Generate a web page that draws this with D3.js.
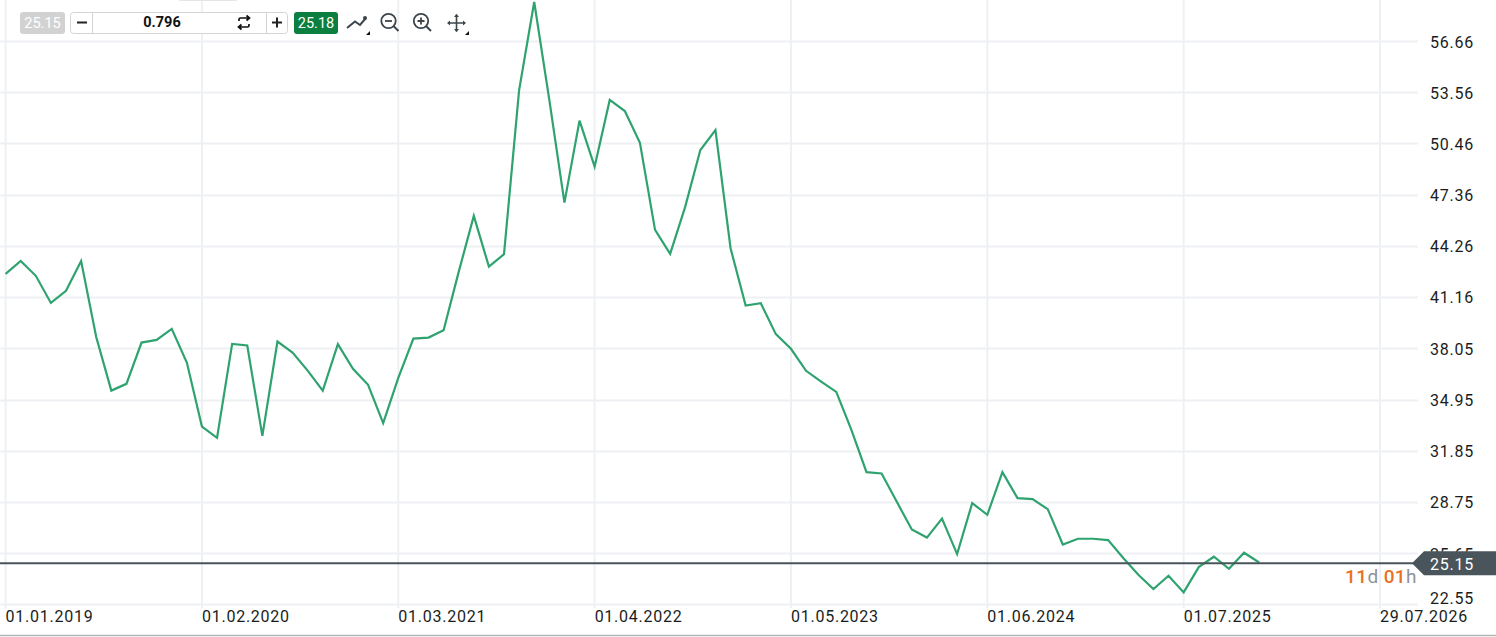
<!DOCTYPE html>
<html><head><meta charset="utf-8">
<script src="https://cdn.jsdelivr.net/npm/d3@7"></script>
<style>
html,body{margin:0;padding:0;background:#fff;overflow:hidden}
text{font-family:Roboto,sans-serif}
</style></head><body><svg id="c" width="1496" height="637"></svg>
<script>
const prices=[42.56,43.34,42.44,40.80,41.53,43.34,38.74,35.49,35.90,38.40,38.56,39.23,37.19,33.31,32.63,38.32,38.22,32.75,38.46,37.79,36.70,35.49,38.30,36.81,35.84,33.52,36.26,38.64,38.70,39.15,42.68,46.07,43.00,43.75,53.69,59.02,53.09,46.87,51.84,49.05,53.09,52.42,50.50,45.22,43.77,46.63,50.06,51.27,44.11,40.64,40.78,38.91,38.02,36.69,36.04,35.41,33.11,30.55,30.47,28.77,27.08,26.59,27.74,25.59,28.68,27.97,30.55,28.98,28.92,28.31,26.17,26.52,26.52,26.44,25.35,24.34,23.47,24.28,23.27,24.80,25.43,24.70,25.67,25.08];
const yTicks=[56.66,53.56,50.46,47.36,44.26,41.16,38.05,34.95,31.85,28.75,25.65,22.55];
const xTickLabels=["01.01.2019","01.02.2020","01.03.2021","01.04.2022","01.05.2023","01.06.2024","01.07.2025","29.07.2026"];
const xTickIndex=[0,13,26,39,52,65,78,91];
const lastLabel="25.15", lineLevel=25.04;
const bidLabel="25.18", sizeLabel="0.796";

const svg=d3.select("#c");
const x=d3.scaleLinear().domain([0,91]).range([5.6,1380]);
const y=d3.scaleLinear().domain([22.55,56.66]).range([604.3,41]);
const plotR=1418, grid="#eef0f4";

const g=svg.append("g");
g.selectAll(".h").data(yTicks).join("line").attr("x1",0).attr("x2",plotR)
 .attr("y1",d=>Math.round(y(d))+.5).attr("y2",d=>Math.round(y(d))+.5).attr("stroke",grid).attr("stroke-width",2);
g.selectAll(".v").data(xTickIndex).join("line").attr("y1",0).attr("y2",608)
 .attr("x1",d=>x(d)).attr("x2",d=>x(d)).attr("stroke",grid).attr("stroke-width",2);

svg.append("path").datum(prices)
 .attr("d",d3.line().x((d,i)=>x(i)).y(d=>y(d)))
 .attr("fill","none").attr("stroke","#2fa36f").attr("stroke-width",2.2).attr("stroke-linejoin","miter");

svg.append("line").attr("x1",0).attr("x2",1414).attr("y1",y(lineLevel)).attr("y2",y(lineLevel))
 .attr("stroke","#4a545b").attr("stroke-width",2);

svg.append("g").selectAll("text").data(yTicks).join("text")
 .attr("x",1430).attr("y",d=>d===22.55?604:y(d)+6.5).text(d=>d.toFixed(2))
 .attr("font-size",16).attr("fill","#1a1d20").attr("letter-spacing",".75px");
svg.append("g").selectAll("text").data(xTickLabels).join("text")
 .attr("x",(d,i)=>x(xTickIndex[i])).attr("y",622).text(d=>d)
 .attr("font-size",16).attr("fill","#1a1d20").attr("letter-spacing",".75px");

// price tag
const ly=y(lineLevel);
svg.append("path").attr("d",`M1412,${ly}L1424,${ly-12}H1496V${ly+12}H1424Z`).attr("fill","#4a545b");
svg.append("text").attr("x",1430).attr("y",ly+7).text(lastLabel).attr("font-size",16).attr("fill","#fff").attr("letter-spacing",".75px");

// countdown
const cd=svg.append("text").attr("x",1345).attr("y",583).attr("font-size",19);
[["11","#e8711f",500],["d","#8d9499",400],[" 01","#e8711f",500],["h","#8d9499",400]].forEach(p=>cd.append("tspan").attr("fill",p[1]).attr("font-weight",p[2]).attr("letter-spacing",".4px").attr("xml:space","preserve").text(p[0]));

svg.append("line").attr("x1",0).attr("x2",1496).attr("y1",635.5).attr("y2",635.5).attr("stroke","#b4b4b4").attr("stroke-width",1.5);

// toolbar
const t=svg.append("g");
t.append("rect").attr("x",178).attr("y",-6).attr("width",60).attr("height",7).attr("rx",3).attr("fill","#e4e4e4");
t.append("rect").attr("x",20).attr("y",12).attr("width",45).attr("height",22).attr("rx",3).attr("fill","#d2d2d2");
t.append("text").attr("x",42.5).attr("y",28).attr("text-anchor","middle").attr("font-size",14.5).attr("fill","#fff").text(lastLabel);
t.append("rect").attr("x",70.5).attr("y",12.5).attr("width",217).attr("height",21).attr("rx",3).attr("fill","#fff").attr("stroke","#d4d4d4");
[92.5,266.5].forEach(v=>t.append("line").attr("x1",v).attr("x2",v).attr("y1",13).attr("y2",33).attr("stroke","#d4d4d4"));
t.append("rect").attr("x",77).attr("y",21.5).attr("width",10).attr("height",2).attr("fill","#222");
t.append("path").attr("d","M272,22.5h10M277,17.5v10").attr("stroke","#222").attr("stroke-width",2);
t.append("text").attr("x",162).attr("y",27).attr("text-anchor","middle").attr("font-size",14.5).attr("font-weight",700).attr("fill","#111").text(sizeLabel);
t.append("path").attr("d","M239,21v-1.5q0-1.5 1.5-1.5h8M246.5,15.5l3,2.5l-3,2.5M249,24v1.5q0,1.5-1.5,1.5h-8M241.5,24.5l-3,2.5l3,2.5").attr("fill","none").attr("stroke","#111").attr("stroke-width",1.7);
t.append("rect").attr("x",294).attr("y",12).attr("width",44).attr("height",22).attr("rx",3).attr("fill","#0a7f3f");
t.append("text").attr("x",316).attr("y",28).attr("text-anchor","middle").attr("font-size",14.5).attr("fill","#fff").text(bidLabel);
// line icon
t.append("path").attr("d","M347,28L355,21.5L360,25L366,18").attr("fill","none").attr("stroke","#3d454b").attr("stroke-width",2);
t.append("circle").attr("cx",365).attr("cy",18).attr("r",2).attr("fill","#3d454b");
const tri=(a,b)=>t.append("path").attr("d",`M${a},${b}h4v-4z`).attr("fill","#111");
tri(366,35);tri(465,35);
// magnifiers
[[388.5,false],[421,true]].forEach(([cx,plus])=>{
 t.append("circle").attr("cx",cx).attr("cy",21).attr("r",7.2).attr("fill","none").attr("stroke","#3d454b").attr("stroke-width",1.8);
 t.append("line").attr("x1",cx+5).attr("y1",26).attr("x2",cx+10).attr("y2",31).attr("stroke","#3d454b").attr("stroke-width",2);
 t.append("path").attr("d",plus?`M${cx-3.5},21h7M${cx},17.5v7`:`M${cx-3.5},21h7`).attr("stroke","#3d454b").attr("stroke-width",1.8);
});
// move
t.append("path").attr("d","M448,23h17M456.5,14.5v17").attr("stroke","#3d454b").attr("stroke-width",1.6);
t.append("path").attr("d","M456.5,14l-2.5,3h5zM456.5,32l-2.5,-3h5zM447,23l3,-2.5v5zM466,23l-3,-2.5v5z").attr("fill","#3d454b");
</script></body></html>
